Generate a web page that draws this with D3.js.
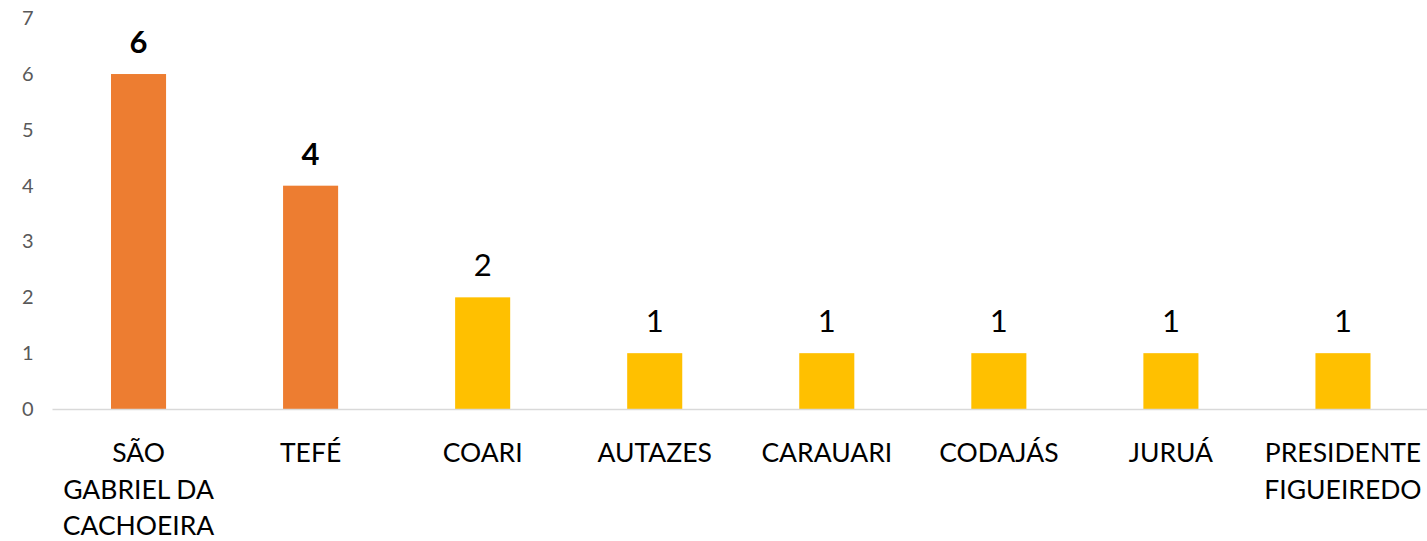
<!DOCTYPE html>
<html>
<head>
<meta charset="utf-8">
<script src="https://cdn.jsdelivr.net/npm/d3@7"></script>
<style>
  body { margin: 0; background: #fff; }
  svg { display: block; font-family: Lato, "Open Sans", sans-serif; }
</style>
</head>
<body>
<div id="chart"></div>
<script>
// données
const categories = ["SÃO GABRIEL DA CACHOEIRA", "TEFÉ", "COARI", "AUTAZES", "CARAUARI", "CODAJÁS", "JURUÁ", "PRESIDENTE FIGUEIREDO"];
const labelLines = [["SÃO", "GABRIEL DA", "CACHOEIRA"], ["TEFÉ"], ["COARI"], ["AUTAZES"], ["CARAUARI"], ["CODAJÁS"], ["JURUÁ"], ["PRESIDENTE", "FIGUEIREDO"]];
const values = [6, 4, 2, 1, 1, 1, 1, 1];
const highlighted = [true, true, false, false, false, false, false, false];
const yTicks = [0, 1, 2, 3, 4, 5, 6, 7];

const width = 1427, height = 541;
const plotLeft = 52.5, plotRight = 1429, plotTop = 18.2, plotBottom = 409;

const svg = d3.select("#chart").append("svg")
  .attr("width", width)
  .attr("height", height);

const x = d3.scaleBand()
  .domain(categories)
  .range([plotLeft, plotRight])
  .paddingInner(0.68)
  .paddingOuter(0.34);

const y = d3.scaleLinear()
  .domain([0, 7])
  .range([plotBottom, plotTop]);

// axe y (seulement les labels)
const yAxis = svg.append("g")
  .attr("transform", "translate(" + (plotLeft - 19) + ",0)")
  .call(d3.axisLeft(y).tickValues(yTicks).tickFormat(d3.format("d")).tickSize(0).tickPadding(0));
yAxis.select(".domain").remove();
yAxis.selectAll("text")
  .attr("fill", "#595959")
  .style("font-size", "20px")
  .style("font-family", "Lato, sans-serif");

// barres
svg.selectAll("rect.bar")
  .data(values)
  .join("rect")
  .attr("class", "bar")
  .attr("x", (d, i) => x(categories[i]))
  .attr("y", d => y(d))
  .attr("width", x.bandwidth())
  .attr("height", d => y(0) - y(d))
  .attr("fill", (d, i) => highlighted[i] ? "#ED7D31" : "#FFC000");

// ligne de base
svg.append("line")
  .attr("x1", plotLeft)
  .attr("x2", plotRight)
  .attr("y1", y(0) + 0.5)
  .attr("y2", y(0) + 0.5)
  .attr("stroke", "#d9d9d9")
  .attr("stroke-width", 1.5);

// étiquettes de valeurs
svg.selectAll("text.val")
  .data(values)
  .join("text")
  .attr("class", "val")
  .attr("x", (d, i) => x(categories[i]) + x.bandwidth() / 2)
  .attr("y", d => y(d) - 21)
  .attr("text-anchor", "middle")
  .style("font-size", "31px")
  .style("font-weight", (d, i) => highlighted[i] ? "bold" : "normal")
  .attr("fill", "#000")
  .text(d => d);

// étiquettes de catégories
const cat = svg.selectAll("text.cat")
  .data(labelLines)
  .join("text")
  .attr("class", "cat")
  .attr("text-anchor", "middle")
  .style("font-size", "26.5px")
  .attr("fill", "#000");

cat.selectAll("tspan")
  .data((d, i) => d.map(t => ({ t: t, i: i })))
  .join("tspan")
  .attr("x", d => x(categories[d.i]) + x.bandwidth() / 2)
  .attr("y", (d, j) => 462 + j * 36.5)
  .text(d => d.t);
</script>
</body>
</html>
